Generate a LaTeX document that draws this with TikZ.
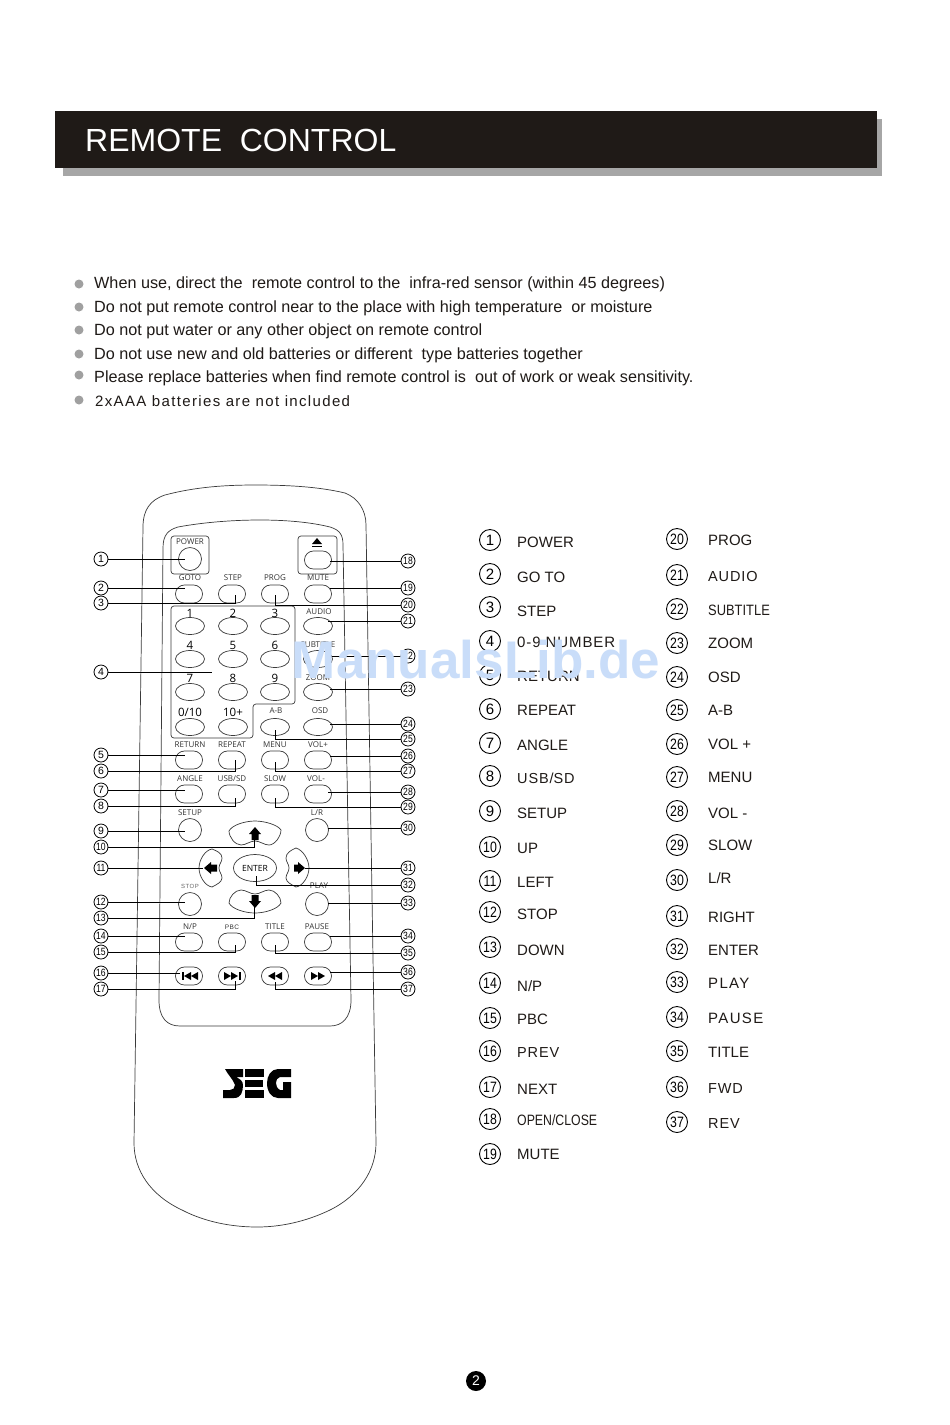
\documentclass[tikz,border=0pt]{standalone}
\usepackage{fontspec}
\usepackage{graphicx}
\setmainfont{Liberation Sans}
\newfontfamily\keyfont{Open Sans}
\newfontfamily\spaced[LetterSpace=6]{Liberation Sans}
\newfontfamily\semi[LetterSpace=6]{Liberation Sans}
\newfontfamily\wide[LetterSpace=9]{Liberation Sans}
\usetikzlibrary{shapes.geometric}
\definecolor{ink}{HTML}{1F1A17}
\definecolor{bannergray}{HTML}{A6A6A6}
\definecolor{dotgray}{HTML}{A0A0A0}
\definecolor{wm}{HTML}{C9DDF9}
\definecolor{outline}{HTML}{3A3A3A}
\newcommand{\fs}[1]{\fontsize{#1}{#1}\selectfont}
\newcommand{\tight}[1]{\ifnum#1>9 \scalebox{.82}[1]{#1}\else #1\fi}
\tikzset{
  pill/.style={draw=outline,line width=.7pt,rectangle,rounded corners=8.9pt,minimum width=27pt,minimum height=18pt,inner sep=0pt},
  oval/.style={draw=outline,line width=.7pt,ellipse,minimum width=29pt,minimum height=17pt,inner sep=0pt},
  roundkey/.style={draw=outline,line width=.7pt,circle,minimum size=23pt,inner sep=0pt},
  keylab/.style={font=\keyfont\fs{8},text=black!80,inner sep=0pt},
  numlab/.style={font=\keyfont\fs{11.5},text=black,inner sep=0pt},
  tag/.style={draw=black,line width=.8pt,circle,minimum size=14pt,inner sep=0pt,font=\fs{10.5}},
  bigtag/.style={draw=black,line width=.9pt,circle,minimum size=21pt,inner sep=0pt,font=\fs{15}},
  lead/.style={draw=black,line width=.9pt},
  legend/.style={anchor=base west,inner sep=0pt,font=\fs{15},text=ink},
  bodyline/.style={draw=outline,line width=.7pt},
  noteline/.style={anchor=base west,inner sep=0pt,font=\fs{16.2},text=ink},
  bullet/.style={circle,fill=dotgray,minimum size=9pt,inner sep=0pt},
}
\begin{document}
\begin{tikzpicture}[x=1pt,y=-1pt]
\useasboundingbox (0,0) rectangle (950,1425);
\fill[white] (0,0) rectangle (950,1425);
% banner
\fill[bannergray] (63,119) rectangle (882,176);
\fill[ink] (55,111) rectangle (877,168);
\node[anchor=base west,inner sep=0pt,text=white,font=\fs{32}] (title) at (85,151) {REMOTE\ \ CONTROL};
% notes
\foreach \i/\by/\ty/\txt in {
 1/284/288/{When use, direct the\ \ remote control to the\ \ infra-red sensor (within 45 degrees)},
 2/307/312/{Do not put remote control near to the place with high temperature\ \ or moisture},
 3/330/335/{Do not put water or any other object on remote control},
 4/354/359/{Do not use new and old batteries or different\ \ type batteries together},
 5/375/382/{Please replace batteries when find remote control is\ \ out of work or weak sensitivity.}}{
  \node[bullet] (dot\i) at (79,\by) {};
  \node[noteline] (note\i) at (94,\ty) {\txt};
}
\node[bullet] (dot6) at (79,400) {};
\node[noteline,font=\wide\fs{15}] (note6) at (95,406) {2xAAA batteries are not included};
% remote body
\draw[bodyline] (143,527) .. controls (143,510) and (150,500) .. (165,495)
  .. controls (195,487) and (225,485) .. (255,485)
  .. controls (290,485) and (320,487) .. (345,493)
  .. controls (358,498) and (366,510) .. (366,525)
  -- (376,1143)
  .. controls (376,1170) and (360,1195) .. (330,1210)
  .. controls (305,1222) and (280,1227) .. (257,1227)
  .. controls (232,1227) and (205,1222) .. (182,1210)
  .. controls (150,1195) and (134,1170) .. (134,1143)
  -- cycle;
% inner panel
\draw[bodyline] (163,548) .. controls (163,535) and (168,530) .. (178,527)
  .. controls (205,522) and (235,520) .. (260,520)
  .. controls (285,520) and (310,522) .. (330,527)
  .. controls (340,530) and (343,535) .. (343,545)
  -- (351,1000)
  .. controls (351,1018) and (342,1026) .. (330,1026)
  -- (180,1026)
  .. controls (167,1026) and (159,1018) .. (159,1000)
  -- cycle;
% framed groups
\draw[bodyline,rounded corners=3pt] (171,536) rectangle (209,574);
\draw[bodyline,rounded corners=3pt] (298,536) rectangle (337,574);
\draw[bodyline,rounded corners=3pt] (171,606) -- (295,606) -- (295,704) -- (253,704) -- (253,738) -- (171,738) -- cycle;
% round keys
\foreach \nm/\x/\y in {power/190/559,setup/190/830,lr/317/830,stop/190/904,play/317/904}
  \node[roundkey] (k\nm) at (\x,\y) {};
% pills
\foreach \nm/\x/\y in {eject/318/560,goto/189/594,step/232/594,prog/275/594,mute/318/594,
  ret/189/760,rep/232/760,menu/275/760,volp/318/760,
  ang/189/794,usb/232/794,slow/275/794,volm/318/794,
  np/189/942,pbc/232/942,ttl/275/942,pause/318/942,
  prev/189/976,next/232/976,rev/275/976,fwd/318/976}
  \node[pill] (k\nm) at (\x,\y) {};
% oval keys
\foreach \nm/\x/\y in {a/190/626,b/233/626,c/275/626,audio/318/626,
  d/190/659,e/233/659,f/275/659,sub/318/659,
  g/190/692,h/233/692,i/275/692,zoom/318/692,
  j/190/727,k/233/727,ab/275/727,osd/318/727}
  \node[oval] (k\nm) at (\x,\y) {};
\node[draw=outline,line width=.7pt,ellipse,minimum width=43pt,minimum height=27pt,inner sep=0pt,font=\keyfont\fs{8.5}] (kenter) at (255,868) {ENTER};
% cursor keys
\draw[bodyline] (229,831) .. controls (232,825) and (245,821) .. (255,821) .. controls (265,821) and (278,825) .. (281,830)
  .. controls (281,836) and (275,845) .. (269,845) .. controls (264,845) and (260,841) .. (255,841) .. controls (250,841) and (246,845) .. (241,845) .. controls (235,845) and (229,837) .. cycle;
\draw[bodyline] (229,903) .. controls (232,909) and (245,913) .. (255,913) .. controls (265,913) and (278,909) .. (281,903)
  .. controls (281,897) and (275,890) .. (269,890) .. controls (264,890) and (260,894) .. (255,894) .. controls (250,894) and (246,890) .. (241,890) .. controls (235,890) and (229,897) .. cycle;
\draw[bodyline] (199,868) .. controls (199,860) and (205,850) .. (212,849) .. controls (217,851) and (222,853) .. (222,858)
  .. controls (222,862) and (219,864) .. (219,868) .. controls (219,872) and (222,874) .. (222,878) .. controls (222,882) and (216,885) .. (212,887) .. controls (205,886) and (199,876) .. cycle;
\draw[bodyline] (309,868) .. controls (309,860) and (303,850) .. (296,848) .. controls (291,850) and (286,853) .. (286,858)
  .. controls (286,862) and (289,864) .. (289,868) .. controls (289,872) and (286,874) .. (286,878) .. controls (286,882) and (292,885) .. (296,887) .. controls (303,886) and (309,876) .. cycle;
% cursor arrows
\fill (255,827) -- (261,834) -- (258.5,834) -- (258.5,840) -- (251.5,840) -- (251.5,834) -- (249,834) -- cycle;
\fill (255,908) -- (261,901) -- (258.5,901) -- (258.5,895) -- (251.5,895) -- (251.5,901) -- (249,901) -- cycle;
\fill (204,868) -- (211,862) -- (211,864.5) -- (217,864.5) -- (217,871.5) -- (211,871.5) -- (211,874) -- cycle;
\fill (305,868) -- (298,862) -- (298,864.5) -- (294,864.5) -- (294,871.5) -- (298,871.5) -- (298,874) -- cycle;
% eject glyph
\fill (317,538) -- (322,544) -- (312,544) -- cycle;
\fill (312,545.5) rectangle (322,547);
% transport glyphs
\fill (182,972) rectangle (183.5,980);
\fill (184,976) -- (191,972) -- (191,980) -- cycle;
\fill (191,976) -- (198,972) -- (198,980) -- cycle;
\fill (224,972) -- (231,976) -- (224,980) -- cycle;
\fill (231,972) -- (238,976) -- (231,980) -- cycle;
\fill (239,972) rectangle (240.5,980);
\fill (268,976) -- (275,972) -- (275,980) -- cycle;
\fill (275,976) -- (282,972) -- (282,980) -- cycle;
\fill (311,972) -- (318,976) -- (311,980) -- cycle;
\fill (318,972) -- (325,976) -- (318,980) -- cycle;
% key labels
\foreach \nm/\x/\y/\txt in {lpower/190/542/POWER,lgoto/190/578/GOTO,lstep/233/578/STEP,lprog/275/578/PROG,lmute/318/578/MUTE,
  laudio/319/612/AUDIO,lsub/318/645/SUBTITLE,lzoom/318/678/ZOOM,lab/276/711/A-B,losd/320/711/OSD,
  lret/190/745/RETURN,lrep/232/745/REPEAT,lmenu/275/745/MENU,lvolp/318/745/VOL+,
  lang/190/779/ANGLE,lusb/232/779/USB\slash SD,lslow/275/779/SLOW,lvolm/316/779/VOL-,
  lsetup/190/813/SETUP,llr/317/813/L\slash R,lplay/319/886/PLAY,
  lnp/190/927/N\slash P,lttl/275/927/TITLE,lpause/317/927/PAUSE}
  \node[keylab] (\nm) at (\x,\y) {\txt};
\node[keylab,font=\wide\fs{6},text=black!60] (lstop) at (190,886) {STOP};
\node[keylab,font=\spaced\fs{6.5}] (lpbc) at (232,927) {PBC};
\foreach \nm/\x/\y/\txt in {n1/190/613/1,n2/233/613/2,n3/275/613/3,n4/190/645/4,n5/233/645/5,n6/275/645/6,n7/190/678/7,n8/233/678/8,n9/275/678/9,n10/190/712/0\slash 10,n11/233/712/10+}
  \node[numlab] (\nm) at (\x,\y) {\txt};
% logo
\fill[black] (225,1069) -- (243,1069) -- (243,1077) -- (236,1077) .. controls (240,1079) and (243,1081) .. (243,1085)
  .. controls (243,1092) and (241,1098) .. (234,1098) -- (223,1098) -- (223,1090) -- (230,1090)
  .. controls (233,1090) and (235,1088) .. (235,1085) .. controls (233,1079) and (228,1075) .. cycle;
\fill[black] (245,1069) rectangle (264,1077);
\fill[black] (245,1080) rectangle (263,1087);
\fill[black] (245,1090) rectangle (264,1098);
\fill[black] (291,1069) -- (278,1069) .. controls (271,1069) and (267,1076) .. (267,1083) .. controls (267,1091) and (271,1098) .. (278,1098)
  -- (291,1098) -- (291,1082) -- (283,1082) -- (283,1090) -- (280,1090) .. controls (277,1088) and (276,1086) .. (276,1083)
  .. controls (276,1080) and (277,1078) .. (280,1077) -- (291,1077) -- cycle;
% left callouts, straight
\foreach \n/\y/\ex in {1/559/185,2/588/185,4/672/212,5/755/185,7/790/185,9/831/185,11/868/203,12/902/185,14/936/185,16/973/180}{
  \node[tag] (L\n) at (101,\y) {\tight{\n}};
  \coordinate (E\n) at (\ex,\y);
  \draw[lead] (L\n) -- (E\n);
}
% left callouts, elbowed
\foreach \n/\y/\ex/\ey in {3/603/235/595,6/771/235/760,8/806/235/798,10/847/254/837,13/918/254/907,15/952/235/945,17/989/235/981}{
  \node[tag] (L\n) at (101,\y) {\tight{\n}};
  \coordinate (E\n) at (\ex,\ey);
  \draw[lead] (L\n) -| (E\n);
}
% right callouts, straight
\foreach \n/\y/\ex in {18/561/330,19/588/330,21/621/328,22/656/332,23/689/330,24/724/330,26/756/330,28/792/328,30/828/328,31/868/305,33/903/328,34/936/330,36/972/330}{
  \node[tag] (R\n) at (408,\y) {\tight{\n}};
  \coordinate (E\n) at (\ex,\y);
  \draw[lead] (R\n) -- (E\n);
}
% right callouts, elbowed
\foreach \n/\y/\ex/\ey in {20/605/275/595,25/739/275/730,27/771/275/762,29/807/275/798,32/885/256/876,35/953/275/945,37/989/275/982}{
  \node[tag] (R\n) at (408,\y) {\tight{\n}};
  \coordinate (E\n) at (\ex,\ey);
  \draw[lead] (R\n) -| (E\n);
}
% legend, first column
\foreach \n/\cy/\ty/\txt in {1/540/547/POWER,2/574/582/GO TO,3/607/616/STEP,5/675/681/RETURN,6/709/715/REPEAT,7/743/750/ANGLE,9/811/818/SETUP,10/847/853/UP,11/881/887/LEFT,12/912/919/STOP,13/947/955/DOWN,14/983/991/N\slash P,15/1018/1024/PBC,17/1087/1094/NEXT,19/1154/1159/MUTE}{
  \node[bigtag] (A\n) at (490,\cy) {\tight{\n}};
  \node[legend] (T\n) at (517,\ty) {\txt};
}
\node[bigtag] (A4) at (490,641) {4};
\node[legend,font=\semi\fs{15}] (T4) at (517,647) {0-9 NUMBER};
\node[bigtag] (A8) at (490,776) {8};
\node[legend,font=\semi\fs{14.5}] (T8) at (517,783) {USB\slash SD};
\node[bigtag] (A16) at (490,1051) {\tight{16}};
\node[legend,font=\semi\fs{14.5}] (T16) at (517,1057) {PREV};
\node[bigtag] (A18) at (490,1119) {\tight{18}};
\node[legend] (T18) at (517,1125) {\scalebox{.82}[1]{OPEN\slash CLOSE}};
% legend, second column
\foreach \n/\cy/\ty/\txt in {20/539/545/PROG,23/643/648/ZOOM,24/677/682/OSD,25/710/715/A-B,26/744/749/VOL +,27/777/782/MENU,28/811/818/VOL -,29/845/850/SLOW,30/880/883/L\slash R,31/916/922/RIGHT,32/949/955/ENTER,35/1051/1057/TITLE}{
  \node[bigtag] (A\n) at (677,\cy) {\tight{\n}};
  \node[legend] (T\n) at (708,\ty) {\txt};
}
\foreach \n/\cy/\ty/\txt in {33/982/988/PLAY,34/1017/1023/PAUSE}{
  \node[bigtag] (A\n) at (677,\cy) {\tight{\n}};
  \node[legend,font=\wide\fs{15}] (T\n) at (708,\ty) {\txt};
}
\foreach \n/\cy/\ty/\txt in {21/575/581/AUDIO,36/1087/1093/FWD,37/1122/1128/REV}{
  \node[bigtag] (A\n) at (677,\cy) {\tight{\n}};
  \node[legend,font=\semi\fs{14.5}] (T\n) at (708,\ty) {\txt};
}
\node[bigtag] (A22) at (677,609) {\tight{22}};
\node[legend] (T22) at (708,615) {\scalebox{.86}[1]{SUBTITLE}};
% page number
\node[circle,fill=black,text=white,minimum size=20pt,inner sep=0pt,font=\fs{14}] (page) at (476,1381) {2};
% watermark
\node[anchor=base,inner sep=0pt,text=wm,font=\bfseries\fs{53}] (watermark) at (476,678) {ManualsLib.de};
\end{tikzpicture}
\end{document}
